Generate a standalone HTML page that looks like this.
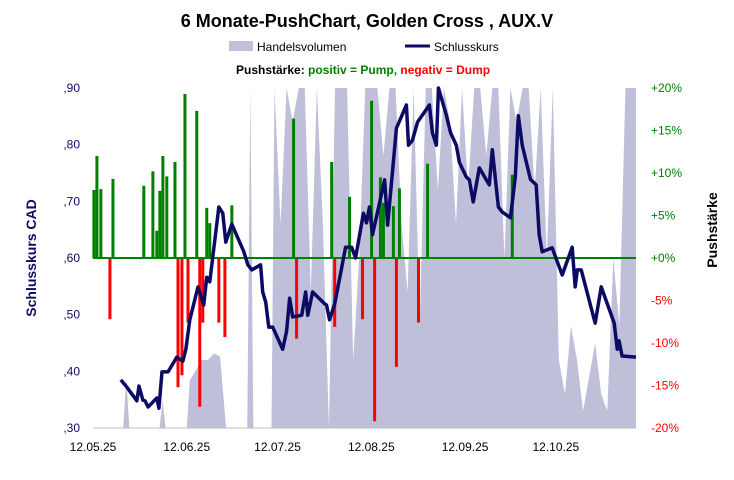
<!DOCTYPE html>
<html><head><meta charset="utf-8"><style>
body{margin:0;background:#fff;}
svg{display:block;font-family:"Liberation Sans",sans-serif;}
</style></head><body>
<svg id="chart" width="734" height="480">
<text x="367" y="27" text-anchor="middle" font-size="18" font-weight="bold" fill="#000">6 Monate-PushChart,  Golden Cross , AUX.V</text>
<g>
<rect x="229" y="41" width="24" height="10" fill="#bfbfda"/>
<text x="257" y="51" font-size="12">Handelsvolumen</text>
<line x1="405" y1="46" x2="430" y2="46" stroke="#0b0b64" stroke-width="3"/>
<text x="434" y="51" font-size="12">Schlusskurs</text>
<text x="236" y="74" font-size="12" font-weight="bold">Pushstärke: <tspan fill="#008000">positiv = Pump, </tspan> <tspan fill="#ff0000">negativ = Dump</tspan></text>
</g>
<text transform="translate(36,258) rotate(-90)" text-anchor="middle" font-size="14" font-weight="bold" fill="#0b0b64">Schlusskurs CAD</text>
<text transform="translate(717,230) rotate(-90)" text-anchor="middle" font-size="14" font-weight="bold" fill="#000">Pushstärke</text>
<g id="vol"></g><g id="bars"></g><g id="line"></g><g id="axes"></g>
</svg>
<script>
const volDays=[0,10,11,12,22,23,24,31,32,34,36,38,40,42,44,51,52,53,59,60,62,64,66,68,70,72,74,76,78,80,82,84,86,88,90,92,94,96,98,100,102,104,106,108,110,112,114,116,118,120,122,124,126,128,130,132,134,136,138,140,142,144,146,148,150,152,154,156,158,160,162,164,166,168,170,172,174,176,178,179.5];
const volValues=[0,0,15,0,0,8,0,0,14,17,20,20,22,21,0,0,100,0,0,100,60,100,90,100,100,40,100,60,0,100,100,100,20,50,100,100,100,80,100,100,60,40,100,30,100,100,70,100,90,60,100,70,100,100,80,100,100,50,100,90,100,100,70,100,50,100,20,10,30,20,5,15,25,10,5,50,30,100,100,100];
const closeDays=[9.2,11.2,14.5,15.2,16.5,17.2,18.2,21.1,21.8,22.8,24.8,27.7,29.7,30.7,32,34.7,36.6,37.6,38.6,41.6,42.9,43.9,45.9,47.9,49.8,51.2,52.5,55.4,56.1,57.1,58.1,59.4,62.7,64,65,66,69,70.3,71,72.6,76.6,77.2,78.2,79.9,83.5,85.5,86.8,89.4,90.4,91.4,92.4,96.4,97.4,100.3,103.6,104.3,105.6,107.3,111.2,112.2,113.5,114.2,116.8,118.2,120.1,121.1,123.4,124.4,125.7,127.7,131,132,134,135.3,138,139.6,140.6,141.9,144.6,146.5,147.5,148.5,151.8,155.1,158.4,159.4,160.1,161.4,166,168,172.3,173.3,173.9,174.9,179.5];
const closeValues=[0.385,0.372,0.348,0.374,0.349,0.348,0.337,0.353,0.335,0.399,0.399,0.425,0.418,0.439,0.491,0.549,0.517,0.566,0.558,0.690,0.679,0.628,0.660,0.635,0.612,0.588,0.579,0.588,0.540,0.522,0.478,0.478,0.439,0.471,0.529,0.496,0.499,0.540,0.499,0.540,0.519,0.517,0.491,0.519,0.619,0.619,0.600,0.679,0.662,0.690,0.641,0.738,0.658,0.829,0.870,0.799,0.808,0.840,0.870,0.821,0.799,0.900,0.852,0.821,0.799,0.769,0.743,0.738,0.699,0.759,0.729,0.791,0.690,0.681,0.671,0.743,0.851,0.799,0.739,0.729,0.641,0.611,0.618,0.570,0.619,0.549,0.579,0.579,0.485,0.549,0.485,0.439,0.454,0.427,0.425];
const pushDays=[0.3,1.3,2.6,6.6,16.8,19.8,21.1,22.1,23.1,24.4,27.1,30.4,34.3,37.6,38.6,45.9,66.3,78.9,84.8,92.1,95,96,99.3,101.3,110.6,138.6,5.6,28.1,29.4,31.4,35.3,36.3,41.6,43.6,67.3,79.9,89.1,93.1,100.3,107.6];
const pushValues=[8,12,8.1,9.3,8.5,10.2,3.2,7.9,12,9.6,11.3,19.3,17.3,5.9,4.1,6.2,16.4,11.3,7.2,18.5,9.5,6.5,6.1,8.2,11.1,9.8,-7.2,-15.2,-13.8,-7.6,-17.5,-7.6,-7.6,-9.3,-9.5,-8.1,-7.2,-19.2,-12.8,-7.6];
const yTicks=[",30",",40",",50",",60",",70",",80",",90"];
const yTickValues=[0.3,0.4,0.5,0.6,0.7,0.8,0.9];
const y2Ticks=["-20%","-15%","-10%","-5%","+0%","+5%","+10%","+15%","+20%"];
const y2TickValues=[-20,-15,-10,-5,0,5,10,15,20];
const xTicks=["12.05.25","12.06.25","12.07.25","12.08.25","12.09.25","12.10.25"];
const xTickDays=[0,31,61,92,123,153];

const NS="http://www.w3.org/2000/svg";
const X0=93,X1=636,YT=88,YB=428;
const xs=d=>X0+d*(X1-X0)/179.5;
const yp=v=>YB-(v-0.3)/0.6*(YB-YT);
const y2=p=>258-p*(YB-YT)/40;
const yv=v=>YB-v/100*(YB-YT);
function mk(tag,attrs,parent){const e=document.createElementNS(NS,tag);for(const k in attrs)e.setAttribute(k,attrs[k]);document.getElementById(parent).appendChild(e);return e;}

let pts=xs(volDays[0])+","+YB+" ";
volDays.forEach((d,i)=>{pts+=xs(d)+","+yv(volValues[i])+" ";});
pts+=xs(volDays[volDays.length-1])+","+YB;
const va=mk("polygon",{points:pts,fill:"#bfbfda"},"vol");



pushDays.forEach((d,i)=>{const v=pushValues[i];const y=y2(v),z=y2(0);
 const b=mk("rect",{x:xs(d)-1.5,y:Math.min(y,z),width:3,height:Math.abs(z-y),fill:v>=0?"#008000":"#ff0000"},"bars");
 
 });
const zl=mk("line",{x1:X0,x2:X1,y1:y2(0),y2:y2(0),stroke:"#008000","stroke-width":2},"bars");



const lp=closeDays.map((d,i)=>xs(d)+","+yp(closeValues[i])).join(" ");
const ln=mk("polyline",{points:lp,fill:"none",stroke:"#0b0b64","stroke-width":3.5,"stroke-linejoin":"round"},"line");



const ax=mk("line",{x1:X0,x2:X1,y1:YB,y2:YB,stroke:"#bfbfbf","stroke-width":1},"axes");


yTicks.forEach((t,i)=>{const e=mk("text",{x:80,y:yp(yTickValues[i])+4,"text-anchor":"end","font-size":12,fill:"#0b0b64"},"axes");e.textContent=t;
 
 });
y2Ticks.forEach((t,i)=>{const e=mk("text",{x:651,y:y2(y2TickValues[i])+4,"font-size":12,fill:y2TickValues[i]<0?"#ff0000":"#008000"},"axes");e.textContent=t;
 
 });
xTicks.forEach((t,i)=>{const e=mk("text",{x:xs(xTickDays[i]),y:451,"text-anchor":"middle","font-size":12,fill:"#000"},"axes");e.textContent=t;
 
 });
</script>
</body></html>
